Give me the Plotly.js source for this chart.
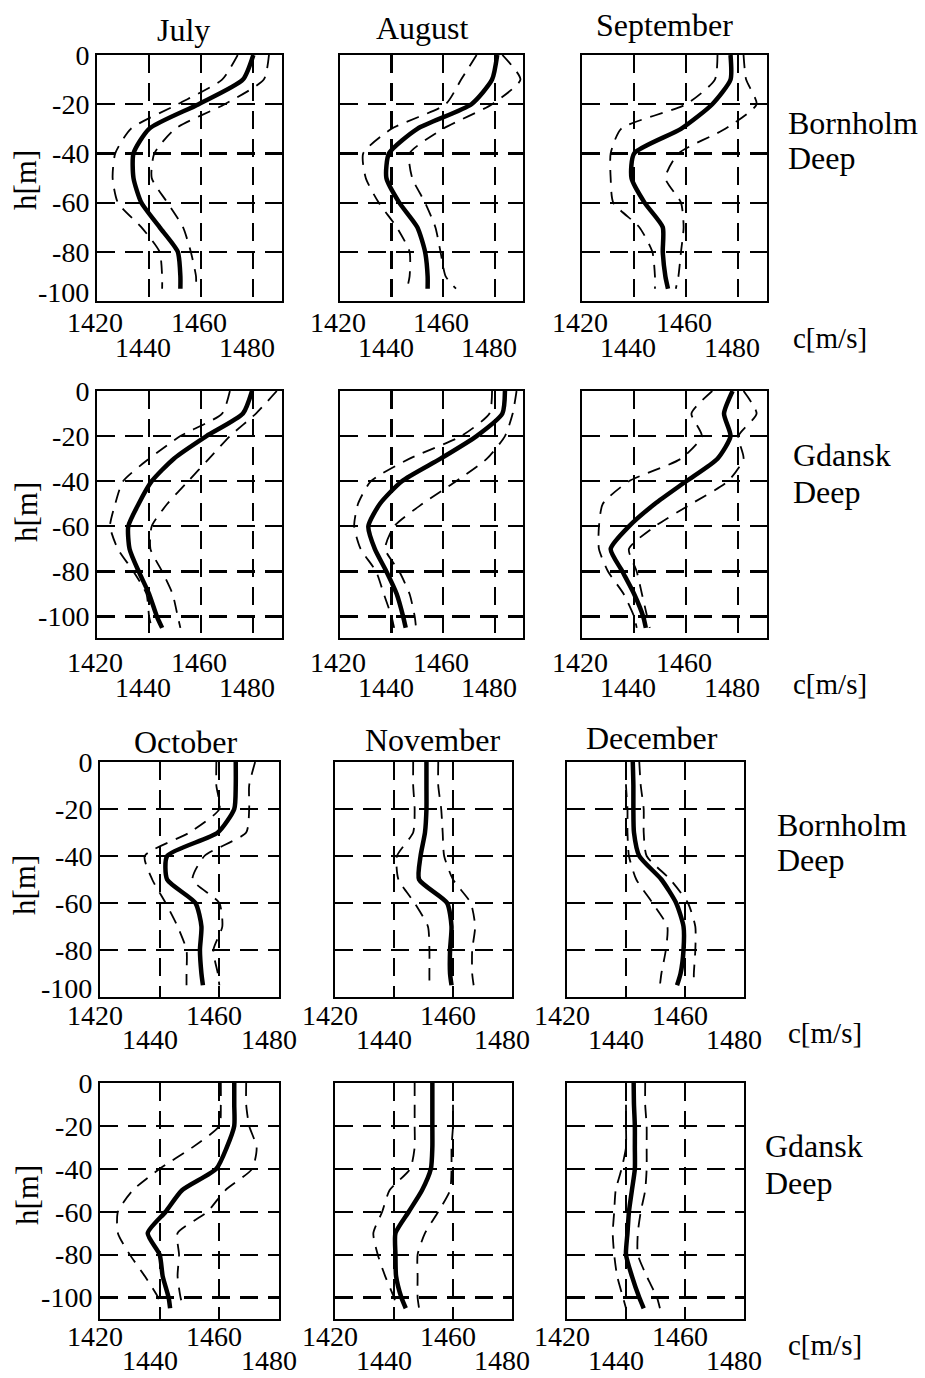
<!DOCTYPE html>
<html><head><meta charset="utf-8">
<script src="https://cdn.plot.ly/plotly-3.0.1.min.js"></script>
<style>html,body{margin:0;padding:0;background:#fff}</style>
</head><body><div id="chart" style="width:925px;height:1378px"></div>
<script>
// ---------- data ----------
const depthBornholm = [0,-10,-20,-30,-40,-50,-60,-70,-80,-90,-95];
const depthGdansk   = [0,-10,-20,-30,-40,-50,-60,-70,-80,-90,-100,-105];
const monthsTop    = ['July','August','September'];
const monthsBottom = ['October','November','December'];
const siteNames    = ['Bornholm','Gdansk','Bornholm','Gdansk'];
const xTickVals   = [1420,1440,1460,1480];
const xTickText   = ['1420','1440','1460','1480'];
const yTickVals = [0,-20,-40,-60,-80,-100];
const yTickText = ['0','-20','-40','-60','-80','-100'];

// Bornholm Deep, July-September
const julB_mean = [1480,1476,1459,1440,1434,1434,1437,1444,1451,1452,1452];
const julB_lo   = [1474,1468,1451,1433,1427,1426,1428,1437,1444,1445,1445];
const julB_hi   = [1486,1484,1469,1450,1442,1441,1447,1453,1456,1458,1458];
const augB_mean = [1481,1479,1471,1450,1439,1438,1443,1450,1453,1454,1454];
const augB_lo   = [1473,1467,1461,1440,1429,1430,1435,1442,1447,1447,1446];
const augB_hi   = [1483,1490,1479,1460,1447,1448,1453,1457,1459,1461,1465];
const sepB_mean = [1477,1477,1470,1458,1440,1439,1444,1451,1451,1452,1453];
const sepB_lo   = [1472,1471,1460,1435,1431,1431,1432,1442,1447,1448,1448];
const sepB_hi   = [1482,1483,1487,1475,1457,1452,1458,1459,1458,1457,1456];
// Gdansk Deep, July-September
const julG_mean = [1479.5,1476,1462,1449.5,1441,1436,1432,1432.5,1436,1440,1443,1445];
const julG_lo   = [1471,1468,1452,1440,1430,1427,1425,1428,1434,1439,1440,1441];
const julG_hi   = [1489,1481,1471,1463,1455,1447,1441,1440.5,1445,1449,1451,1452];
const augG_mean = [1484,1483,1473,1459,1444,1435.5,1431,1433.5,1438,1442,1444.5,1445.5];
const augG_lo   = [1479,1478,1467,1447,1432,1427,1425.5,1428,1434,1437,1440,1441];
const augG_hi   = [1488.5,1487,1484,1477,1465,1452,1441,1437.5,1443,1447,1449,1449.5];
const sepG_mean = [1477.8,1474.5,1477,1472,1460,1448,1438,1431,1435.5,1440,1443.5,1444.5];
const sepG_lo   = [1470,1462,1466,1458,1438,1428,1426.5,1426.5,1430,1436,1440,1441];
const sepG_hi   = [1482,1487,1480,1482,1476,1462,1448,1438,1441,1443,1445,1446];
// Bornholm Deep, October-December
const octB_mean = [1465.5,1465.5,1465,1459.5,1442.5,1442.5,1452,1454,1453.5,1454,1454.5];
const octB_lo   = [1459,1459,1460,1450,1435,1437.5,1442,1446,1449,1449,1449];
const octB_hi   = [1472,1470,1470,1469,1455,1451,1460,1461,1458,1459.5,1460];
const novB_mean = [1451,1451,1451,1450.5,1449,1448.5,1458,1459.5,1459,1459,1459.5];
const novB_lo   = [1446.5,1446.5,1447,1446.5,1441,1441.5,1447,1451.5,1452,1452,1452];
const novB_hi   = [1455,1455,1456,1456.5,1457,1460,1466,1467.5,1466.5,1466.5,1467];
const decB_mean = [1442.3,1442.5,1442.5,1442.7,1444.5,1452,1457,1459.5,1459.5,1458.5,1457.3];
const decB_lo   = [1440,1440,1440.5,1440.5,1441,1443.5,1449,1454,1453.5,1452,1451.5];
const decB_hi   = [1444.5,1445,1446,1446,1447,1455,1461,1463.5,1463.5,1463,1463];
// Gdansk Deep, October-December
const octG_mean = [1465,1465,1465,1462.5,1459,1447.5,1442,1436,1440,1441,1443,1443.5];
const octG_lo   = [1460.5,1460.5,1460,1451,1440,1431,1426,1426,1430,1435,1439.5,1440.5];
const octG_hi   = [1469,1469,1470,1472.5,1471,1462,1456,1446,1446.5,1446,1447,1448];
const novG_mean = [1453,1453,1453,1453,1452.5,1449.5,1445,1440.5,1440.5,1440.7,1442.5,1444];
const novG_lo   = [1447,1447,1447,1447,1445.5,1438.5,1436,1433,1434.5,1437,1440,1441];
const novG_hi   = [1460,1460,1460,1459.5,1459.5,1459,1455,1450.5,1448,1448,1448,1448.5];
const decG_mean = [1442.6,1442.7,1443,1443,1443,1442,1441,1440.5,1440,1442,1444.5,1446];
const decG_lo   = [1440,1440,1440,1440,1438.5,1436.5,1436,1435.5,1436,1437,1439,1440];
const decG_hi   = [1446.5,1446.5,1447,1447,1447,1446.5,1445,1444,1444,1447,1450.5,1451.5];

const panelData = [
  [[julB_mean,julB_lo,julB_hi],[augB_mean,augB_lo,augB_hi],[sepB_mean,sepB_lo,sepB_hi]],
  [[julG_mean,julG_lo,julG_hi],[augG_mean,augG_lo,augG_hi],[sepG_mean,sepG_lo,sepG_hi]],
  [[octB_mean,octB_lo,octB_hi],[novB_mean,novB_lo,novB_hi],[decB_mean,decB_lo,decB_hi]],
  [[octG_mean,octG_lo,octG_hi],[novG_mean,novG_lo,novG_hi],[decG_mean,decG_lo,decG_hi]]
];
const rowDepths = [depthBornholm, depthGdansk, depthBornholm, depthGdansk];

// ---------- layout geometry (pixels) ----------
const W = 925, H = 1378;
const xPixTop = [[97,282],[340,523],[582,767]];
const xPixBot = [[100,279],[335,512],[567,744]];
const yPixRows = [[55,301],[391,638],[762,997],[1083,1319]];
const xRangeTop = [1420,1491], xRangeBot = [1420,1480];
const yRanges = [[-100,0],[-109.5,0],[-100,0],[-110,0]];
const bottomLabelLifted = [true,false,true,false];   // "-100" sits at the bottom edge in Bornholm rows
// offsets (px below the plot) of the staggered x tick labels, per row: [upper, lower]
const xLabelDrop = [[21,46],[24,49],[18,42],[17,41]];
const xLabelShift = [[-2,-6],[-2,-6],[-5,-10],[-5,-10]];

const FONT = 'Liberation Serif, Times New Roman, serif';
const px = v => v / W;
const py = v => 1 - v / H;

const traces = [];
const layout = {
  width: W, height: H,
  margin: {l:0, r:0, t:0, b:0},
  paper_bgcolor: '#fff', plot_bgcolor: '#fff',
  showlegend: false,
  font: {family: FONT, color: '#000', size: 28},
  annotations: []
};

let idx = 0;
for (let r = 0; r < 4; r++) {
  for (let c = 0; c < 3; c++) {
    idx++;
    const xs = r < 2 ? xPixTop[c] : xPixBot[c];
    const xr = r < 2 ? xRangeTop : xRangeBot;
    const ya = yPixRows[r];
    const xn = idx === 1 ? 'xaxis' : 'xaxis' + idx;
    const yn = idx === 1 ? 'yaxis' : 'yaxis' + idx;
    const xref = idx === 1 ? 'x' : 'x' + idx;
    const yref = idx === 1 ? 'y' : 'y' + idx;
    const common = {
      showline: true, mirror: true, linecolor: '#000', linewidth: 2,
      showgrid: true, gridcolor: '#000', gridwidth: 2.2, griddash: '18px,10px',
      zeroline: false, ticks: '', fixedrange: true
    };
    layout[xn] = Object.assign({}, common, {
      domain: [px(xs[0]), px(xs[1])], range: xr, anchor: 'y' + idx,
      tickmode: 'array', tickvals: xTickVals, showticklabels: false
    });
    const yText = yTickText.map((t, k) => (bottomLabelLifted[r] && yTickVals[k] === -100) ? '' : t);
    layout[yn] = Object.assign({}, common, {
      domain: [py(ya[1]), py(ya[0])], range: yRanges[r], anchor: 'x' + idx,
      tickmode: 'array', tickvals: yTickVals, ticktext: yText,
      showticklabels: c === 0,
      tickfont: {family: FONT, size: 28, color: '#000'}
    });
    if (c === 0 && bottomLabelLifted[r]) {
      layout.annotations.push({
        text: '-100', xref: 'paper', yref: yref, x: px(xs[0] - 6), y: -100,
        xanchor: 'right', yanchor: 'middle', yshift: 9, showarrow: false,
        font: {family: FONT, size: 28, color: '#000'}
      });
    }
    // staggered x tick labels, placed on the axis scale
    xTickVals.forEach((v, k) => {
      const lower = k % 2 === 1;
      layout.annotations.push({
        text: xTickText[k], xref: xref, yref: 'paper', x: v, y: py(ya[1]),
        xanchor: 'center', yanchor: 'middle', showarrow: false,
        yshift: -xLabelDrop[r][lower ? 1 : 0], xshift: xLabelShift[r][lower ? 1 : 0],
        font: {family: FONT, size: 28, color: '#000'}
      });
    });
    const [mean, lo, hi] = panelData[r][c];
    const depth = rowDepths[r];
    const ax = {xaxis: 'x' + idx, yaxis: 'y' + idx, mode: 'lines', hoverinfo: 'skip'};
    traces.push(Object.assign({x: lo, y: depth, line: {color:'#000', width: 1.8, dash: '13px,9px', shape: 'spline', smoothing: 0.6}}, ax));
    traces.push(Object.assign({x: hi, y: depth, line: {color:'#000', width: 1.8, dash: '13px,9px', shape: 'spline', smoothing: 0.6}}, ax));
    traces.push(Object.assign({x: mean, y: depth, line: {color:'#000', width: 4.5, shape: 'spline', smoothing: 0.6}}, ax));
  }
}

// month titles
const titleTop = [[183,30],[422,28],[664,25]];
const titleBot = [[185,742],[432,740],[652,738]];
monthsTop.forEach((m,i) => layout.annotations.push({text: m, xref:'paper', yref:'paper', x: px(titleTop[i][0]), y: py(titleTop[i][1]), showarrow:false, font:{family:FONT,size:32}, xanchor:'center', yanchor:'middle'}));
monthsBottom.forEach((m,i) => layout.annotations.push({text: m, xref:'paper', yref:'paper', x: px(titleBot[i][0]), y: py(titleBot[i][1]), showarrow:false, font:{family:FONT,size:32}, xanchor:'center', yanchor:'middle'}));

// h[m] labels
[[25,180],[26,512],[25,885],[27,1195]].forEach(p => layout.annotations.push({text:'h[m]', xref:'paper', yref:'paper', x: px(p[0]), y: py(p[1]), textangle:-90, showarrow:false, font:{family:FONT,size:31}, xanchor:'center', yanchor:'middle'}));

// c[m/s] labels
[[830,338],[830,684],[825,1033],[825,1345]].forEach(p => layout.annotations.push({text:'c[m/s]', xref:'paper', yref:'paper', x: px(p[0]), y: py(p[1]), showarrow:false, font:{family:FONT,size:29}, xanchor:'center', yanchor:'middle'}));

// site labels: name line and "Deep" line
const sitePos = [[786,123,158],[791,455,492],[775,825,860],[763,1146,1183]];
sitePos.forEach((p,i) => {
  layout.annotations.push({text: siteNames[i], xref:'paper', yref:'paper', x: px(p[0]), y: py(p[1]), showarrow:false, font:{family:FONT,size:32}, xanchor:'left', yanchor:'middle'});
  layout.annotations.push({text: 'Deep', xref:'paper', yref:'paper', x: px(p[0]), y: py(p[2]), showarrow:false, font:{family:FONT,size:32}, xanchor:'left', yanchor:'middle'});
});

Plotly.newPlot('chart', traces, layout, {displayModeBar:false, staticPlot:true});
</script>
</body></html>
